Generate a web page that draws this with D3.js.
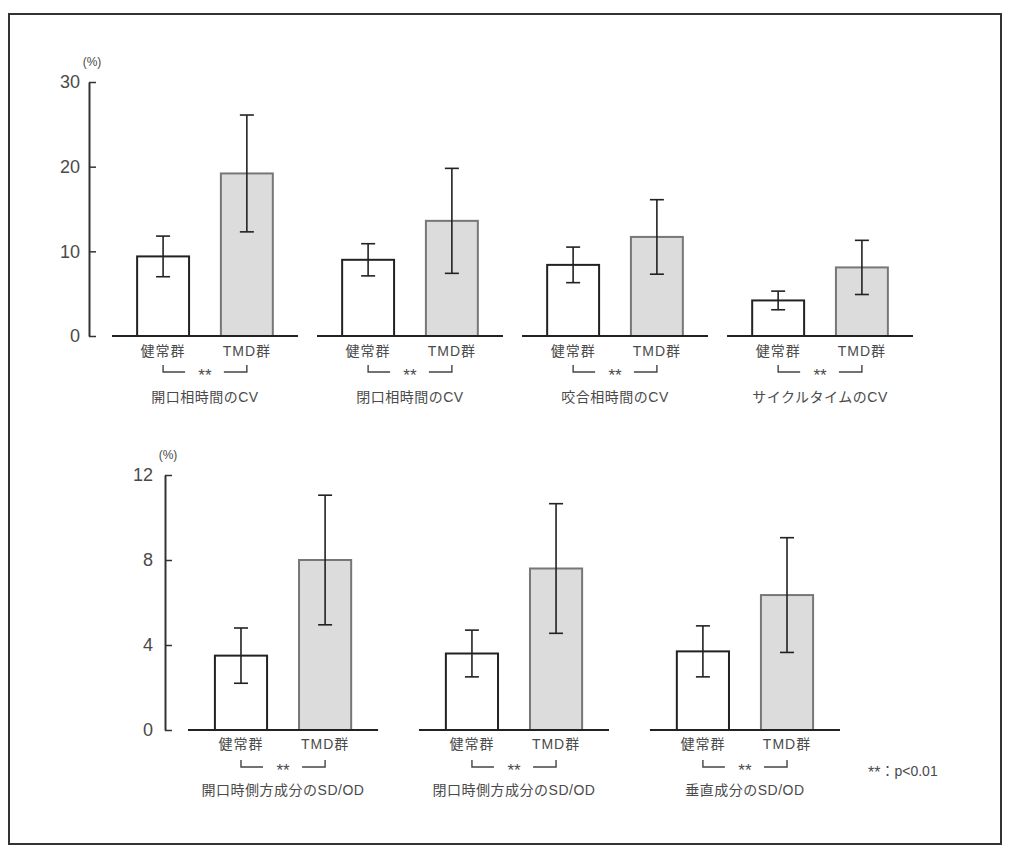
<!DOCTYPE html>
<html>
<head>
<meta charset="utf-8">
<script src="https://cdn.jsdelivr.net/npm/d3@7"></script>
<style>
  html, body { margin: 0; padding: 0; background: #fff; }
  svg { display: block; font-family: "Liberation Sans", Arial, "Noto Sans CJK JP", sans-serif; }
</style>
</head>
<body>
<svg id="chart" width="1018" height="855"></svg>
<script>
// ---------------- data ----------------
const groups = ["健常群", "TMD群"];

const topTitles = ["開口相時間のCV", "閉口相時間のCV", "咬合相時間のCV", "サイクルタイムのCV"];
const topHealthyMean = [9.4, 9.0, 8.4, 4.2];
const topHealthySD   = [2.4, 1.9, 2.1, 1.1];
const topTmdMean     = [19.2, 13.6, 11.7, 8.1];
const topTmdSD       = [6.9, 6.2, 4.4, 3.2];
const topTicks = [0, 10, 20, 30];

const botTitles = ["開口時側方成分のSD/OD", "閉口時側方成分のSD/OD", "垂直成分のSD/OD"];
const botHealthyMean = [3.5, 3.6, 3.7];
const botHealthySD   = [1.3, 1.1, 1.2];
const botTmdMean     = [8.0, 7.6, 6.35];
const botTmdSD       = [3.05, 3.05, 2.7];
const botTicks = [0, 4, 8, 12];

const sigMark = "**";
const legendMark = "**";
const legendText = "：p<0.01";
const unitLabel = "(%)";

// ---------------- drawing ----------------
const svg = d3.select("#chart");
const textCol = "#4a4a4a";

// frame
svg.append("rect")
  .attr("x", 9).attr("y", 14).attr("width", 992).attr("height", 830)
  .attr("fill", "none").attr("stroke", "#333").attr("stroke-width", 2);

function drawChart(cfg) {
  const g = svg.append("g");
  const y = d3.scaleLinear().domain([0, cfg.max]).range([cfg.y0, cfg.y1]);
  const panel = d3.scaleBand().domain(d3.range(cfg.titles.length))
    .range(cfg.xRange).paddingInner(cfg.panelPad).paddingOuter(0);
  const inner = d3.scaleBand().domain(groups)
    .range([0, panel.bandwidth()]).paddingInner(0.38).paddingOuter(cfg.innerOuter);

  // y axis
  const axis = d3.axisLeft(y).tickValues(cfg.ticks).tickSizeInner(-7).tickSizeOuter(0)
    .tickPadding(cfg.tickPad).tickFormat(d3.format("d"));
  const ag = g.append("g").attr("transform", `translate(${cfg.axisX},0)`).call(axis);
  ag.select(".domain").attr("stroke", "#333").attr("stroke-width", 2);
  ag.selectAll(".tick line").attr("stroke", "#333").attr("stroke-width", 1.5);
  ag.selectAll(".tick text").attr("font-size", 18).attr("fill", textCol)
    .attr("font-family", "Liberation Sans, Arial, sans-serif");

  g.append("text").attr("x", cfg.axisX + 3).attr("y", cfg.y1 - 16)
    .attr("text-anchor", "middle").attr("font-size", 12).attr("fill", textCol)
    .text(unitLabel);

  const data = cfg.titles.map((t, i) => ({
    i, title: t,
    bars: [
      { grp: groups[0], mean: cfg.hMean[i], sd: cfg.hSD[i] },
      { grp: groups[1], mean: cfg.tMean[i], sd: cfg.tSD[i] }
    ]
  }));

  const pg = g.selectAll("g.panel").data(data).join("g")
    .attr("class", "panel")
    .attr("transform", d => `translate(${panel(d.i)},0)`);

  // bars
  pg.selectAll("rect.bar").data(d => d.bars).join("rect")
    .attr("class", "bar")
    .attr("x", b => inner(b.grp))
    .attr("width", inner.bandwidth())
    .attr("y", b => y(b.mean))
    .attr("height", b => y(0) - y(b.mean))
    .attr("fill", b => b.grp === groups[0] ? "#ffffff" : "#dcdcdc")
    .attr("stroke", b => b.grp === groups[0] ? "#222" : "#777")
    .attr("stroke-width", 2);

  // error bars
  const eb = pg.selectAll("g.err").data(d => d.bars).join("g").attr("class", "err")
    .attr("transform", b => `translate(${inner(b.grp) + inner.bandwidth() / 2},0)`);
  eb.append("line").attr("x1", 0).attr("x2", 0)
    .attr("y1", b => y(b.mean + b.sd)).attr("y2", b => y(b.mean - b.sd))
    .attr("stroke", "#222").attr("stroke-width", 1.6);
  eb.selectAll("line.cap").data(b => [b.mean + b.sd, b.mean - b.sd]).join("line")
    .attr("class", "cap")
    .attr("x1", -7).attr("x2", 7)
    .attr("y1", v => y(v)).attr("y2", v => y(v))
    .attr("stroke", "#222").attr("stroke-width", 1.6);

  // baseline
  pg.append("line").attr("x1", 0).attr("x2", panel.bandwidth())
    .attr("y1", y(0)).attr("y2", y(0))
    .attr("stroke", "#222").attr("stroke-width", 1.8);

  // group labels
  pg.selectAll("text.grp").data(d => d.bars).join("text").attr("class", "grp")
    .attr("x", b => inner(b.grp) + inner.bandwidth() / 2)
    .attr("y", y(0) + cfg.labelDy)
    .attr("text-anchor", "middle").attr("font-size", 14).attr("fill", textCol)
    .attr("letter-spacing", 1)
    .attr("font-family", "Liberation Sans, Arial, Noto Sans CJK JP, sans-serif")
    .text(b => b.grp);

  // significance bracket
  const by = y(0) + cfg.bracketDy;
  const cx0 = inner(groups[0]) + inner.bandwidth() / 2;
  const cx1 = inner(groups[1]) + inner.bandwidth() / 2;
  pg.append("path")
    .attr("d", `M${cx0},${by - 7}V${by}H${cx0 + 22}M${cx1 - 23},${by}H${cx1}V${by - 7}`)
    .attr("fill", "none").attr("stroke", "#444").attr("stroke-width", 1.4);
  pg.append("text")
    .attr("x", panel.bandwidth() / 2).attr("y", by + 9)
    .attr("text-anchor", "middle").attr("font-size", 17).attr("fill", textCol)
    .text(sigMark);

  // titles
  pg.append("text")
    .attr("x", panel.bandwidth() / 2).attr("y", y(0) + cfg.titleDy)
    .attr("text-anchor", "middle").attr("font-size", 14).attr("fill", textCol)
    .attr("letter-spacing", 0.5)
    .attr("font-family", "Liberation Sans, Arial, Noto Sans CJK JP, sans-serif")
    .text(d => d.title);
}

drawChart({
  titles: topTitles, hMean: topHealthyMean, hSD: topHealthySD, tMean: topTmdMean, tSD: topTmdSD,
  ticks: topTicks, max: 30, y0: 336, y1: 82, axisX: 89, tickPad: 9,
  xRange: [112, 913], panelPad: 0.093, innerOuter: 0.3,
  labelDy: 20, bracketDy: 36, titleDy: 66
});

drawChart({
  titles: botTitles, hMean: botHealthyMean, hSD: botHealthySD, tMean: botTmdMean, tSD: botTmdSD,
  ticks: botTicks, max: 12, y0: 730, y1: 475, axisX: 165, tickPad: 12,
  xRange: [188, 840], panelPad: 0.177, innerOuter: 0.32,
  labelDy: 19, bracketDy: 37, titleDy: 65
});

const lg = svg.append("text").attr("x", 868).attr("y", 776)
  .attr("font-size", 14).attr("fill", textCol);
lg.append("tspan").attr("font-size", 16).attr("dy", 2).text(legendMark);
lg.append("tspan").attr("dy", -2).text(legendText);
</script>
</body>
</html>
